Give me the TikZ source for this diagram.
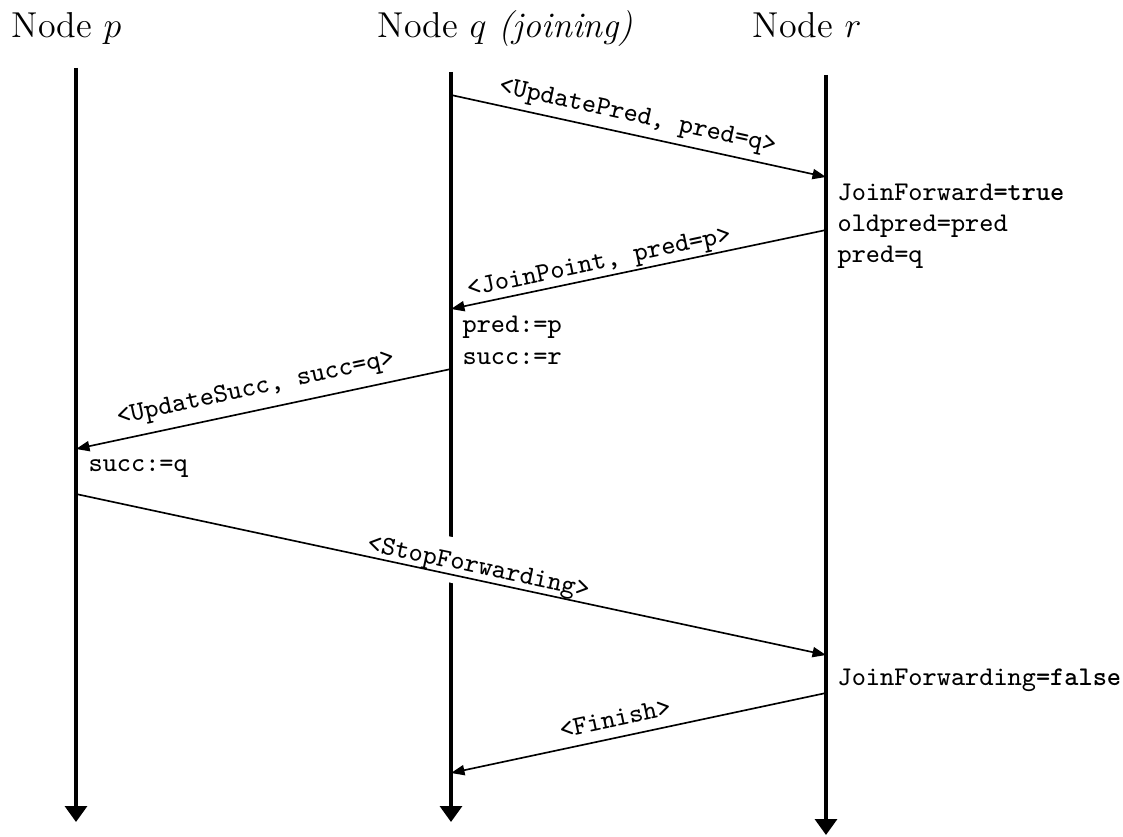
\documentclass[tikz,border=0pt]{standalone}
\usepackage{fontspec}
\usetikzlibrary{arrows.meta}
\begin{document}
\begin{tikzpicture}[x=0.33333pt,y=-0.33333pt,
  lifeline/.style={line width=1.1pt,-{Triangle[length=5.3pt,width=7.3pt]}},
  msg/.style={line width=0.55pt,-{Triangle[length=4.5pt,width=3.4pt]}},
  hdr/.style={font=\large, anchor=base west, inner sep=0pt},
  lbl/.style={font=\small\ttfamily, sloped, anchor=south, text depth=0pt, inner xsep=0pt},
  note/.style={font=\small\ttfamily, anchor=base west, inner sep=0pt}]
\useasboundingbox (0,0) rectangle (1123,837);
% headers
\node[hdr] (hp) at (11,38) {Node $p$};
\node[hdr] (hq) at (377,38) {Node $q$ \textit{(joining)}};
\node[hdr] (hr) at (752,38) {Node $r$};
% lifelines
\coordinate (ptop) at (76,68);  \coordinate (pbot) at (76,822);
\coordinate (qtop) at (451,72); \coordinate (qbot) at (451,822);
\coordinate (rtop) at (826,75); \coordinate (rbot) at (826,835);
\draw[lifeline] (ptop) -- (pbot);
\draw[lifeline] (qtop) -- (qbot);
\draw[lifeline] (rtop) -- (rbot);
% message end points
\coordinate (m1a) at (451,95);  \coordinate (m1b) at (826,177);
\coordinate (m2a) at (826,230); \coordinate (m2b) at (451,309);
\coordinate (m3a) at (451,369); \coordinate (m3b) at (76,449);
\coordinate (m4a) at (76,494);  \coordinate (m4b) at (826,655);
\coordinate (m5a) at (826,693); \coordinate (m5b) at (451,773);
% messages
\draw[msg] (m1a) -- node[lbl, pos=0.487, inner ysep=4pt] (l1) {<UpdatePred, pred=q>} (m1b);
\draw[msg] (m2a) -- node[lbl, pos=0.597, inner ysep=2.5pt] (l2) {<JoinPoint, pred=p>} (m2b);
\draw[msg] (m3a) -- node[lbl, pos=0.509, inner ysep=4.9pt] (l3) {<UpdateSucc, succ=q>} (m3b);
\draw[msg] (m4a) -- node[lbl, pos=0.533, inner ysep=4.7pt, outer ysep=-2.7pt, fill=white, behind path] (l4) {<StopForwarding>} (m4b);
\draw[msg] (m5a) -- node[lbl, pos=0.552, inner ysep=3.4pt] (l5) {<Finish>} (m5b);
% notes
\node[note] (n1) at (837,201) {JoinForward\textbf{=true}};
\node[note] (n2) at (837,232) {oldpred=pred};
\node[note] (n3) at (837,263) {pred=q};
\node[note] (n4) at (462,333) {pred:=p};
\node[note] (n5) at (462,365) {succ:=r};
\node[note] (n6) at (88,472) {succ:=q};
\node[note] (n7) at (837,686) {JoinForwarding\textbf{=false}};
\end{tikzpicture}
\end{document}
